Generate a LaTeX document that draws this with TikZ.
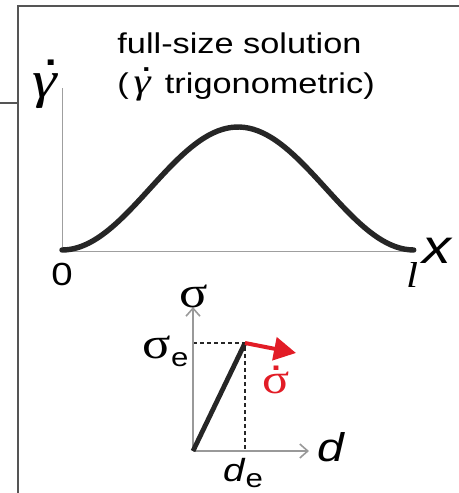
\documentclass[tikz,border=0pt]{standalone}
\usepackage{fontspec}
\setmainfont[FakeStretch=1.2]{Liberation Sans}
\newfontfamily\grk[FakeStretch=1.2]{Liberation Serif}
\usetikzlibrary{arrows.meta}
\definecolor{sigred}{RGB}{226,28,38}
\definecolor{frameg}{RGB}{85,85,85}
% letter with a dot above it (right or centred)
\newcommand{\rdot}[2]{\ooalign{#2\cr\hfil\raisebox{#1}{.}\kern-0.05em\cr}}
\newcommand{\cdotabove}[2]{\ooalign{#2\cr\hidewidth\raisebox{#1}{.}\hidewidth\cr}}
\newcommand{\gamdot}{\rdot{0.62em}{\grk\itshape γ}}
\newcommand{\sigdot}{\cdotabove{0.56em}{\grk σ}}

\begin{document}
\begin{tikzpicture}[x=0.5pt, y=-0.5pt, every node/.style={inner sep=0pt}]
  \tikzstyle{frame}=[draw=frameg,line width=1pt]
  \tikzstyle{ax}=[draw=gray!75,line width=0.5pt]
  \tikzstyle{sax}=[draw=gray!80,line width=0.8pt,-{Straight Barb[length=4pt,width=7pt]}]
  \tikzstyle{guide}=[draw=black!85,line width=0.8pt,dash pattern=on 2pt off 1.5pt]
  \useasboundingbox (0,0) rectangle (459,493);
  % frame of the panel
  \coordinate (fbot) at (18,493);
  \coordinate (fcorner) at (18,6);
  \coordinate (fright) at (459,6);
  \coordinate (tickl) at (0,103);
  \coordinate (tickr) at (18,103);
  \draw[frame] (fbot) -- (fcorner) -- (fright);
  \draw[frame] (tickl) -- (tickr);
  % full-size solution
  \node[font=\fontsize{14.3}{20}\selectfont,align=left,anchor=west] (title) at (117,66)
    {full-size solution\\(\,{\fontsize{18}{20}\selectfont\gamdot}\ \,trigonometric)};
  \coordinate (o1) at (62,251);
  \coordinate (ytop) at (62,88);
  \coordinate (xend) at (415,251);
  \draw[ax] (ytop) -- (o1) -- (xend);
  \draw[line width=2.7pt,black!85,line cap=round]
    plot[domain=0:1,samples=80] ({62+352*\x},{250-123*(1-cos(360*\x))/2});
  \node[font=\fontsize{26}{26}\selectfont] (gam) at (45,86) {\gamdot};
  \node[font=\fontsize{16}{16}\selectfont] (zero) at (62,274) {0};
  \node[font=\fontsize{18}{18}\selectfont\grk\itshape] (ell) at (412,275) {l};
  \node[font=\fontsize{24}{24}\selectfont\itshape] (xlab) at (437,251) {x};
  % small sigma-d inset
  \coordinate (o2) at (193,451);
  \coordinate (stop) at (193,307);
  \coordinate (dend) at (309,451);
  \coordinate (pe) at (245,343);
  \coordinate (se) at (193,343);
  \coordinate (de) at (245,451);
  \coordinate (tip) at (296,353);
  \draw[guide] (se) -- (pe) -- (de);
  \draw[sax] (o2) -- (stop);
  \draw[sax] (o2) -- (dend);
  \draw[line width=2.4pt,black!85] (o2) -- (pe);
  \draw[sigred,line width=2pt,-{Triangle[length=11pt,width=11.5pt]}] (pe) -- (tip);
  \node[font=\fontsize{22}{22}\selectfont\grk] (slab) at (194,296) {σ};
  \node[font=\fontsize{22}{22}\selectfont,anchor=east] (selab) at (189,351)
    {{\grk σ}\raisebox{-4pt}{\fontsize{13}{13}\selectfont e}};
  \node[font=\fontsize{20}{20}\selectfont\itshape,anchor=west] (dlab) at (317,447) {d};
  \node[font=\fontsize{16}{16}\selectfont] (delab) at (243,473)
    {\textit{d}\raisebox{-3pt}{\fontsize{13}{13}\selectfont e}};
  \node[font=\fontsize{21}{21}\selectfont,text=sigred] (sdot) at (276,383) {\sigdot};
\end{tikzpicture}
\end{document}
